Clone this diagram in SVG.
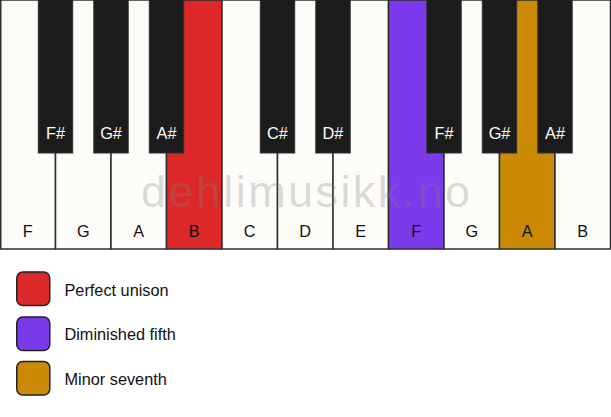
<svg xmlns="http://www.w3.org/2000/svg" width="611" height="417" viewBox="0 0 611 417">
<style>
.w{fill:#fdfcf9;stroke:#2e2e2e;stroke-width:1.5}
.b{fill:#1c1c1c;stroke:#2e2e2e;stroke-width:1}
.lw{font-family:"Liberation Sans",Arial,sans-serif;font-size:16.3px;fill:#111;text-anchor:middle}
.lb{font-family:"Liberation Sans",Arial,sans-serif;font-size:16.3px;fill:#fff;text-anchor:middle}
.lg{font-family:"Liberation Sans",Arial,sans-serif;font-size:16.3px;fill:#111}
.sq{stroke:#222;stroke-width:1.5}
.wm{font-family:"Liberation Sans",Arial,sans-serif;font-size:45px;fill:#808080;fill-opacity:0.28}
</style>
<rect width="611" height="417" fill="#fff"/>
<g id="white-keys">
<g id="key-F1"><rect class="w" x="0.75" y="0" width="54.75" height="249"/><text class="lw" x="27.75" y="237">F</text></g>
<g id="key-G1"><rect class="w" x="55.5" y="0" width="55.5" height="249"/><text class="lw" x="83.25" y="237">G</text></g>
<g id="key-A1"><rect class="w" x="111" y="0" width="55.5" height="249"/><text class="lw" x="138.75" y="237">A</text></g>
<g id="key-B1"><rect class="w" x="166.5" y="0" width="55.5" height="249" style="fill:#dc2828"/><text class="lw" x="194.25" y="237">B</text></g>
<g id="key-C"><rect class="w" x="222" y="0" width="55.5" height="249"/><text class="lw" x="249.75" y="237">C</text></g>
<g id="key-D"><rect class="w" x="277.5" y="0" width="55.5" height="249"/><text class="lw" x="305.25" y="237">D</text></g>
<g id="key-E"><rect class="w" x="333" y="0" width="55.5" height="249"/><text class="lw" x="360.75" y="237">E</text></g>
<g id="key-F2"><rect class="w" x="388.5" y="0" width="55.5" height="249" style="fill:#7c3aed"/><text class="lw" x="416.25" y="237">F</text></g>
<g id="key-G2"><rect class="w" x="444" y="0" width="55.5" height="249"/><text class="lw" x="471.75" y="237">G</text></g>
<g id="key-A2"><rect class="w" x="499.5" y="0" width="55.5" height="249" style="fill:#ca8a04"/><text class="lw" x="527.25" y="237">A</text></g>
<g id="key-B2"><rect class="w" x="555" y="0" width="55.5" height="249"/><text class="lw" x="582.75" y="237">B</text></g>
</g>
<text class="wm" x="141" y="207" textLength="329" lengthAdjust="spacing">dehlimusikk.no</text>
<g id="black-keys">
<g id="key-Fs1"><rect class="b" x="38.3" y="-1" width="34.4" height="154"/><text class="lb" x="55.5" y="139">F#</text></g>
<g id="key-Gs1"><rect class="b" x="93.8" y="-1" width="34.4" height="154"/><text class="lb" x="111" y="139">G#</text></g>
<g id="key-As1"><rect class="b" x="149.3" y="-1" width="34.4" height="154"/><text class="lb" x="166.5" y="139">A#</text></g>
<g id="key-Cs"><rect class="b" x="260.3" y="-1" width="34.4" height="154"/><text class="lb" x="277.5" y="139">C#</text></g>
<g id="key-Ds"><rect class="b" x="315.8" y="-1" width="34.4" height="154"/><text class="lb" x="333" y="139">D#</text></g>
<g id="key-Fs2"><rect class="b" x="426.8" y="-1" width="34.4" height="154"/><text class="lb" x="444" y="139">F#</text></g>
<g id="key-Gs2"><rect class="b" x="482.3" y="-1" width="34.4" height="154"/><text class="lb" x="499.5" y="139">G#</text></g>
<g id="key-As2"><rect class="b" x="537.8" y="-1" width="34.4" height="154"/><text class="lb" x="555" y="139">A#</text></g>
</g>
<g id="legend">
<g id="legend-unison"><rect class="sq" x="16.75" y="272" width="33" height="33.5" rx="6" fill="#dc2828"/><text class="lg" x="64.5" y="296">Perfect unison</text></g>
<g id="legend-fifth"><rect class="sq" x="16.75" y="317" width="33" height="33.5" rx="6" fill="#7c3aed"/><text class="lg" x="64.5" y="340">Diminished fifth</text></g>
<g id="legend-seventh"><rect class="sq" x="16.75" y="361.5" width="33" height="33.5" rx="6" fill="#ca8a04"/><text class="lg" x="64.5" y="385">Minor seventh</text></g>
</g>
</svg>
